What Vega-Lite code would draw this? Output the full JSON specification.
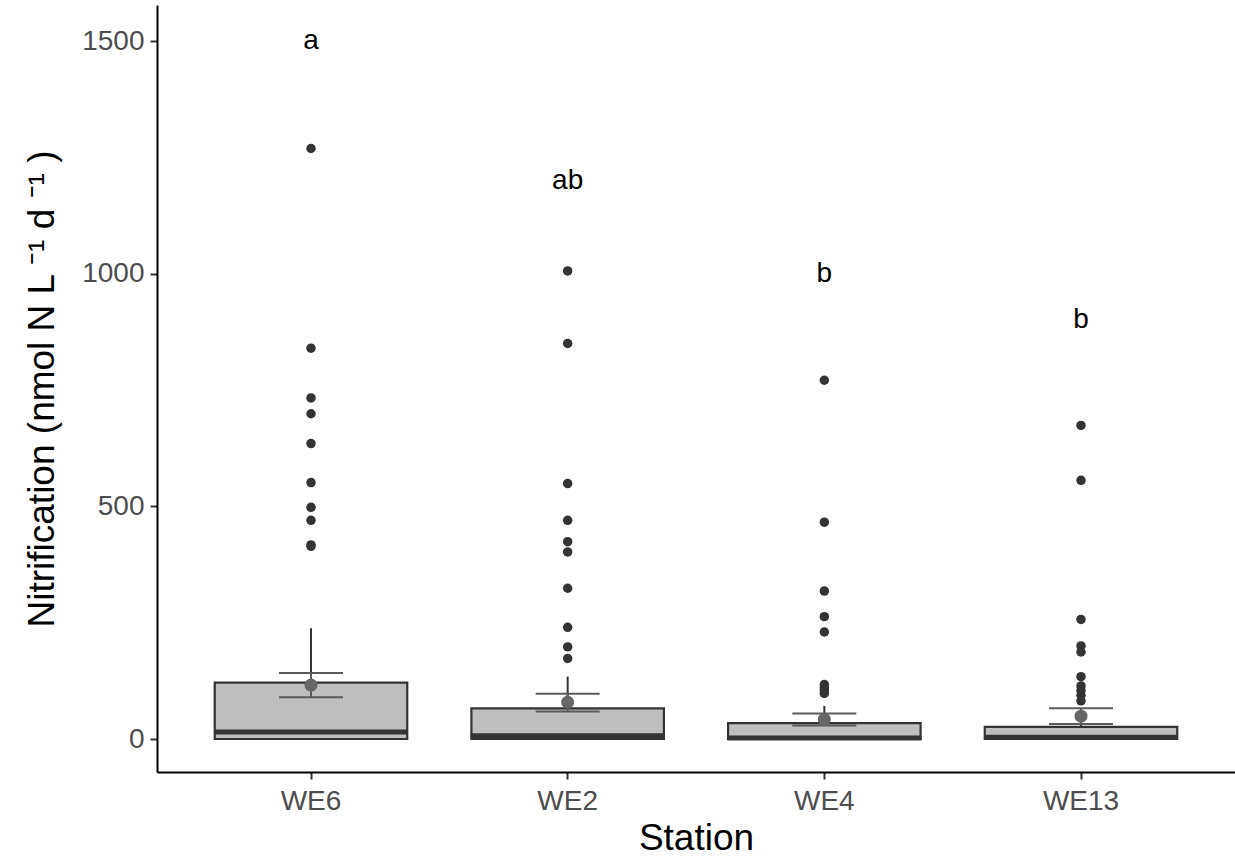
{
  "$schema": "https://vega.github.io/schema/vega-lite/v6.json",
  "width": 1078,
  "height": 767,
  "autosize": {"type": "none"},
  "padding": {"left": 157, "top": 5, "right": 0, "bottom": 84},
  "background": "white",
  "config": {
    "view": {"stroke": null},
    "font": "Liberation Sans",
    "axis": {
      "grid": false,
      "domainColor": "black",
      "domainWidth": 2,
      "tickColor": "#333333",
      "tickWidth": 2,
      "tickSize": 7,
      "labelFont": "Liberation Sans",
      "labelFontSize": 28,
      "labelColor": "#4D4D4D",
      "labelPadding": 6,
      "titleFont": "Liberation Sans",
      "titleFontSize": 37,
      "titleFontWeight": "normal",
      "titleColor": "black"
    }
  },
  "datasets": {
    "summary": [
      {"Station": "WE6", "q1": 0, "median": 15, "q3": 121, "whisker_hi": 238, "mean": 116, "se_lo": 90, "se_hi": 142, "letter": "a", "letter_y": 1500},
      {"Station": "WE2", "q1": 0, "median": 7, "q3": 66, "whisker_hi": 134, "mean": 79, "se_lo": 59, "se_hi": 97, "letter": "ab", "letter_y": 1200},
      {"Station": "WE4", "q1": 0, "median": 2, "q3": 34, "whisker_hi": 71, "mean": 42, "se_lo": 29, "se_hi": 55, "letter": "b", "letter_y": 1000},
      {"Station": "WE13", "q1": 0, "median": 4, "q3": 26, "whisker_hi": 60, "mean": 49, "se_lo": 32, "se_hi": 66, "letter": "b", "letter_y": 900}
    ],
    "outliers": [
      {"Station": "WE6", "value": 1269},
      {"Station": "WE6", "value": 840},
      {"Station": "WE6", "value": 733},
      {"Station": "WE6", "value": 699},
      {"Station": "WE6", "value": 635},
      {"Station": "WE6", "value": 551},
      {"Station": "WE6", "value": 498},
      {"Station": "WE6", "value": 470},
      {"Station": "WE6", "value": 417},
      {"Station": "WE6", "value": 414},
      {"Station": "WE2", "value": 1006},
      {"Station": "WE2", "value": 850},
      {"Station": "WE2", "value": 549},
      {"Station": "WE2", "value": 470},
      {"Station": "WE2", "value": 424},
      {"Station": "WE2", "value": 402},
      {"Station": "WE2", "value": 324},
      {"Station": "WE2", "value": 240},
      {"Station": "WE2", "value": 198},
      {"Station": "WE2", "value": 173},
      {"Station": "WE4", "value": 771},
      {"Station": "WE4", "value": 466},
      {"Station": "WE4", "value": 318},
      {"Station": "WE4", "value": 263},
      {"Station": "WE4", "value": 230},
      {"Station": "WE4", "value": 117},
      {"Station": "WE4", "value": 110},
      {"Station": "WE4", "value": 104},
      {"Station": "WE4", "value": 98},
      {"Station": "WE13", "value": 674},
      {"Station": "WE13", "value": 556},
      {"Station": "WE13", "value": 257},
      {"Station": "WE13", "value": 200},
      {"Station": "WE13", "value": 187},
      {"Station": "WE13", "value": 134},
      {"Station": "WE13", "value": 114},
      {"Station": "WE13", "value": 104},
      {"Station": "WE13", "value": 94},
      {"Station": "WE13", "value": 82}
    ]
  },
  "encoding": {
    "x": {
      "field": "Station",
      "type": "nominal",
      "sort": ["WE6", "WE2", "WE4", "WE13"],
      "scale": {"type": "band", "paddingInner": 0, "paddingOuter": 0.1},
      "axis": {"title": "Station", "labelAngle": 0, "labelPadding": 8, "titlePadding": 5}
    }
  },
  "layer": [
    {
      "data": {"name": "summary"},
      "mark": {"type": "rule", "color": "#333333", "strokeWidth": 2},
      "encoding": {
        "y": {
          "field": "q3",
          "type": "quantitative",
          "scale": {"domain": [-70.9, 1577.4], "nice": false, "zero": false},
          "axis": {"values": [0, 500, 1000, 1500], "format": "d", "title": "Nitrification (nmol N L ⁻¹ d ⁻¹ )", "titlePadding": 20}
        },
        "y2": {"field": "whisker_hi"}
      }
    },
    {
      "data": {"name": "summary"},
      "mark": {"type": "bar", "fill": "#BEBEBE", "stroke": "#333333", "strokeWidth": 2.2, "width": {"band": 0.75}},
      "encoding": {
        "y": {"field": "q1", "type": "quantitative"},
        "y2": {"field": "q3"}
      }
    },
    {
      "data": {"name": "summary"},
      "mark": {"type": "tick", "color": "#333333", "size": 194, "thickness": 5, "opacity": 1},
      "encoding": {
        "y": {"field": "median", "type": "quantitative"}
      }
    },
    {
      "data": {"name": "outliers"},
      "mark": {"type": "circle", "color": "#333333", "size": 90, "opacity": 1},
      "encoding": {
        "y": {"field": "value", "type": "quantitative"}
      }
    },
    {
      "data": {"name": "summary"},
      "mark": {"type": "rule", "color": "#5A5A5A", "strokeWidth": 2},
      "encoding": {
        "y": {"field": "se_lo", "type": "quantitative"},
        "y2": {"field": "se_hi"}
      }
    },
    {
      "data": {"name": "summary"},
      "mark": {"type": "tick", "color": "#5A5A5A", "size": 64, "thickness": 2, "opacity": 1},
      "encoding": {
        "y": {"field": "se_lo", "type": "quantitative"}
      }
    },
    {
      "data": {"name": "summary"},
      "mark": {"type": "tick", "color": "#5A5A5A", "size": 64, "thickness": 2, "opacity": 1},
      "encoding": {
        "y": {"field": "se_hi", "type": "quantitative"}
      }
    },
    {
      "data": {"name": "summary"},
      "mark": {"type": "circle", "color": "#666666", "size": 170, "opacity": 1},
      "encoding": {
        "y": {"field": "mean", "type": "quantitative"}
      }
    },
    {
      "data": {"name": "summary"},
      "mark": {"type": "text", "fontSize": 28, "font": "Liberation Sans", "color": "black", "baseline": "middle", "align": "center"},
      "encoding": {
        "y": {"field": "letter_y", "type": "quantitative"},
        "text": {"field": "letter"}
      }
    }
  ]
}
